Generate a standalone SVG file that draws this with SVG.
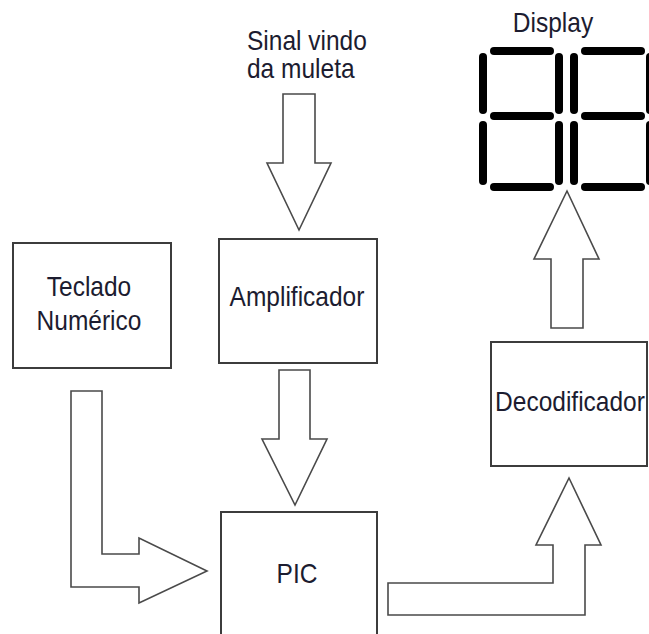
<svg xmlns="http://www.w3.org/2000/svg" width="649" height="634" viewBox="0 0 649 634">
  <style>
    .box { fill: #ffffff; stroke: #3c3c3c; stroke-width: 2; }
    .arrow { fill: #ffffff; stroke: #4a4a4a; stroke-width: 1.6; stroke-linejoin: miter; }
    .lbl { font-family: "Liberation Sans", Arial, sans-serif; font-size: 24.5px; fill: #1c1c30; }
    .mid { text-anchor: middle; }
    .seg { stroke: #000000; stroke-width: 8; stroke-linecap: round; }
  </style>
  <rect width="649" height="634" fill="#ffffff"/>

  <!-- Block arrows between stages -->
  <g id="connectors">
    <polygon class="arrow" points="283,94 315,94 315,163 331,163 299,230 267,163 283,163"/>
    <polygon class="arrow" points="279,370 310,370 310,439 327,439 295,505 262,439 279,439"/>
    <polygon class="arrow" points="71,391 102,391 102,554 139,554 139,538 207,571 139,603 139,587 71,587"/>
    <polygon class="arrow" points="388,583 553,583 553,545 536,545 569,478 601,545 585,545 585,615 388,615"/>
    <polygon class="arrow" points="551,328 583,328 583,259 599,259 567,191 534,259 551,259"/>
  </g>

  <!-- labels are drawn slightly tall: scale(1,1.14) about each baseline -->
  <g id="signal-in">
    <text class="lbl" transform="translate(247,50) scale(1,1.14)">Sinal vindo</text>
    <text class="lbl" transform="translate(247,78) scale(1,1.14)">da muleta</text>
  </g>

  <g id="teclado">
    <rect class="box" x="13" y="243" width="158" height="125"/>
    <text class="lbl mid" transform="translate(89,296) scale(1,1.14)">Teclado</text>
    <text class="lbl mid" transform="translate(89,330) scale(1,1.14)">Numérico</text>
  </g>

  <g id="amplificador">
    <rect class="box" x="219" y="239" width="158" height="124"/>
    <text class="lbl mid" transform="translate(297,306) scale(1,1.14)">Amplificador</text>
  </g>

  <g id="pic">
    <rect class="box" x="221" y="512" width="156" height="140"/>
    <text class="lbl mid" transform="translate(297,583) scale(1,1.14)">PIC</text>
  </g>

  <g id="decodificador">
    <rect class="box" x="491" y="342" width="156" height="124"/>
    <text class="lbl mid" transform="translate(570,411) scale(1,1.14)">Decodificador</text>
  </g>

  <!-- Two seven-segment digits -->
  <g id="display">
    <text class="lbl mid" transform="translate(553,32) scale(1,1.14)">Display</text>
    <g id="digit-1">
      <line class="seg" x1="494" y1="51" x2="550" y2="51"/>
      <line class="seg" x1="494" y1="116" x2="550" y2="116"/>
      <line class="seg" x1="494" y1="187" x2="550" y2="187"/>
      <line class="seg" x1="483" y1="57" x2="483" y2="110"/>
      <line class="seg" x1="559" y1="57" x2="559" y2="110"/>
      <line class="seg" x1="483" y1="125" x2="483" y2="181"/>
      <line class="seg" x1="559" y1="125" x2="559" y2="181"/>
    </g>
    <g id="digit-2">
      <line class="seg" x1="585" y1="51" x2="641" y2="51"/>
      <line class="seg" x1="585" y1="116" x2="641" y2="116"/>
      <line class="seg" x1="585" y1="187" x2="641" y2="187"/>
      <line class="seg" x1="574" y1="57" x2="574" y2="110"/>
      <line class="seg" x1="650" y1="57" x2="650" y2="110"/>
      <line class="seg" x1="574" y1="125" x2="574" y2="181"/>
      <line class="seg" x1="650" y1="125" x2="650" y2="181"/>
    </g>
  </g>
</svg>
